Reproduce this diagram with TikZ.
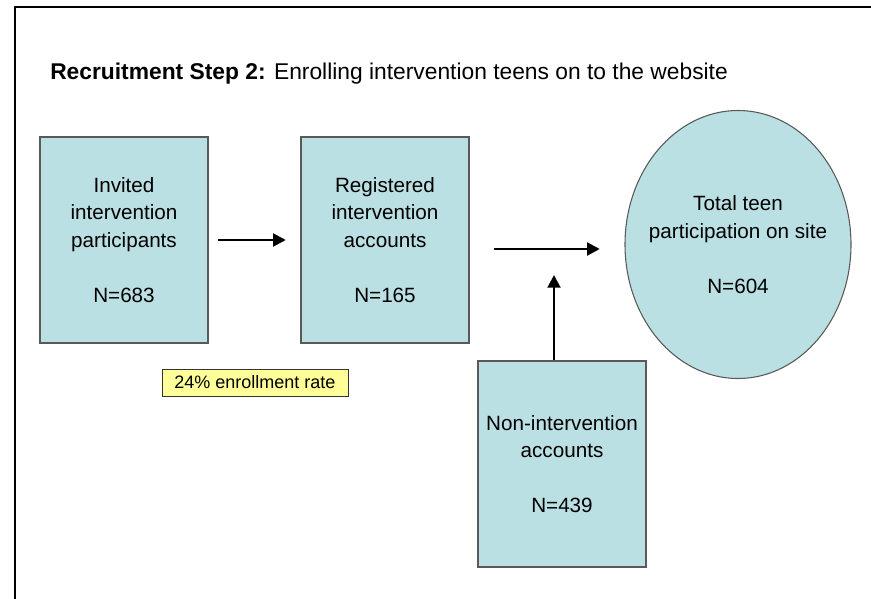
\documentclass[tikz,border=0pt]{standalone}
\usepackage{fontspec}
\setmainfont{Liberation Sans}
\usetikzlibrary{shapes.geometric, arrows.meta, positioning}
\definecolor{paleteal}{HTML}{BBE0E3}
\definecolor{edgegrey}{HTML}{595959}
\definecolor{noteyellow}{HTML}{FFFF99}

\begin{document}
\begin{tikzpicture}[x=0.75pt, y=-0.75pt,
  stage/.style={rectangle, draw=edgegrey, line width=0.8pt, fill=paleteal, minimum width=126pt, minimum height=154.5pt, align=center, inner sep=0pt, font=\fontsize{15.5}{20.6}\selectfont},
  total/.style={ellipse, draw=edgegrey, line width=0.8pt, fill=paleteal, minimum width=169.5pt, minimum height=201pt, align=center, inner xsep=-8pt, inner ysep=0pt, font=\fontsize{15.5}{20.6}\selectfont},
  flow/.style={-{Triangle[length=9.5pt, width=9.5pt]}, line width=2.2pt}]
\useasboundingbox (0,0) rectangle (871,599);
\draw[line width=2pt] (15,599) -- (15,7) -- (871,7);

\node[anchor=base west, inner sep=0pt, font=\fontsize{17.1}{20}\selectfont] (heading) at (50,80) {\textbf{Recruitment Step 2:} Enrolling intervention teens on to the website};

\node[stage] (invited) at (124,240) {Invited\\intervention\\participants\\[20.6pt]N=683};
\node[stage] (registered) at (385,240) {Registered\\intervention\\accounts\\[20.6pt]N=165};
\node[total] (site) at (738,244.5) {Total teen\\participation on site\\[20.6pt]N=604};
\node[stage] (nonint) at (562,464) {Non-intervention\\accounts\\[20.6pt]N=439};
\node[rectangle, draw=black!80, line width=0.6pt, fill=noteyellow, minimum width=139.5pt, minimum height=20.25pt, inner sep=0pt, font=\fontsize{13.5}{16}\selectfont] (rate) at (255,382.5) {24\% enrollment rate};

\coordinate (join) at (554,249);

\draw[flow, shorten <=7pt, shorten >=11pt] (invited) -- (registered);
\draw[flow, shorten <=18pt, shorten >=18.5pt] (registered.east |- join) -- (site.west |- join);
\draw[flow, shorten >=19.5pt] (join |- nonint.north) -- (join);
\end{tikzpicture}
\end{document}
